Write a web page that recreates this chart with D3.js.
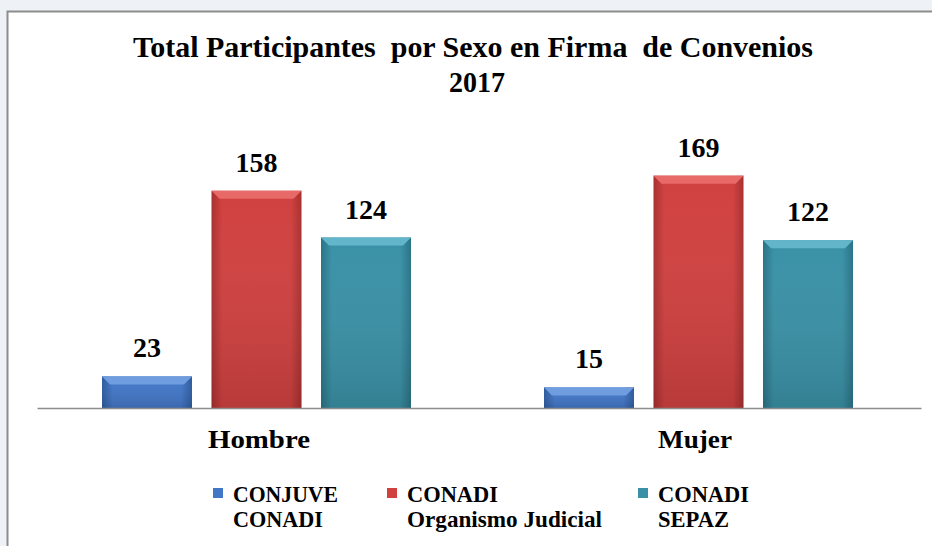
<!DOCTYPE html>
<html>
<head>
<meta charset="utf-8">
<script src="https://cdn.jsdelivr.net/npm/d3@7"></script>
<style>
  body { margin: 0; background: #eef2f6; }
  svg { display: block; }
</style>
</head>
<body>
<div id="my_dataviz"></div>
<script>
// data
var categories = ["Hombre", "Mujer"];
var series = ["CONJUVE CONADI", "CONADI Organismo Judicial", "CONADI SEPAZ"];
var legendLines = [["CONJUVE", "CONADI"], ["CONADI", "Organismo Judicial"], ["CONADI", "SEPAZ"]];
var conjuve = [23, 15];
var judicial = [158, 169];
var sepaz = [124, 122];
var colors = ["#4276c6", "#d04140", "#3a91a6"];
var darks = ["#2d5a9e", "#a8302f", "#2a7387"];
var lights = ["#6f9de0", "#e86a68", "#63b6c9"];

var FONT = "Liberation Serif";
var W = 932, H = 546;
var svg = d3.select("#my_dataviz")
  .append("svg")
  .attr("width", W)
  .attr("height", H);

// squeeze a text element to a given width
function fit(sel, w) {
  sel.attr("textLength", w).attr("lengthAdjust", "spacingAndGlyphs");
}

// chart frame
svg.append("rect")
  .attr("x", 7.5).attr("y", 11.5)
  .attr("width", W).attr("height", H)
  .attr("fill", "#fff")
  .attr("stroke", "#8c8c8c")
  .attr("stroke-width", 2);

var defs = svg.append("defs");
colors.forEach(function(c, i) {
  var g = defs.append("linearGradient").attr("id", "g" + i)
    .attr("x1", 0).attr("x2", 1).attr("y1", 0).attr("y2", 0);
  g.append("stop").attr("offset", "0%").attr("stop-color", darks[i]);
  g.append("stop").attr("offset", "12%").attr("stop-color", c);
  g.append("stop").attr("offset", "88%").attr("stop-color", c);
  g.append("stop").attr("offset", "100%").attr("stop-color", darks[i]);
  var v = defs.append("linearGradient").attr("id", "v" + i)
    .attr("x1", 0).attr("x2", 0).attr("y1", 0).attr("y2", 1);
  v.append("stop").attr("offset", "0%").attr("stop-color", "#fff").attr("stop-opacity", 0.0);
  v.append("stop").attr("offset", "100%").attr("stop-color", "#000").attr("stop-opacity", 0.12);
});

var baseY = 408;
var x0 = d3.scaleBand().domain(categories).range([37, 921]).paddingInner(0).paddingOuter(0);
var x1 = d3.scaleBand().domain(series).range([65, 374]).paddingInner(0.178).paddingOuter(0);
var y = d3.scaleLinear().domain([0, 200]).range([baseY, baseY - 275]);

var rows = categories.map(function(c, i) {
  return { cat: c, vals: [conjuve[i], judicial[i], sepaz[i]] };
});

// title
svg.append("text")
  .attr("x", 473).attr("y", 57)
  .attr("text-anchor", "middle")
  .attr("font-family", FONT).attr("font-weight", "bold").attr("font-size", 30)
  .attr("xml:space", "preserve")
  .text("Total Participantes  por Sexo en Firma  de Convenios")
  .call(fit, 680);
svg.append("text")
  .attr("x", 477).attr("y", 92)
  .attr("text-anchor", "middle")
  .attr("font-family", FONT).attr("font-weight", "bold").attr("font-size", 30)
  .text("2017")
  .call(fit, 56);

var groups = svg.selectAll("g.cat")
  .data(rows)
  .enter().append("g")
  .attr("class", "cat")
  .attr("transform", function(d) { return "translate(" + x0(d.cat) + ",0)"; });

var bars = groups.selectAll("g.bar")
  .data(function(d) { return d.vals.map(function(v, i) { return { v: v, s: series[i], i: i }; }); })
  .enter().append("g").attr("class", "bar");

bars.append("rect")
  .attr("x", function(d) { return x1(d.s); })
  .attr("y", function(d) { return y(d.v); })
  .attr("width", x1.bandwidth())
  .attr("height", function(d) { return baseY - y(d.v); })
  .attr("fill", function(d) { return "url(#g" + d.i + ")"; });
bars.append("rect")
  .attr("x", function(d) { return x1(d.s); })
  .attr("y", function(d) { return y(d.v); })
  .attr("width", x1.bandwidth())
  .attr("height", function(d) { return baseY - y(d.v); })
  .attr("fill", function(d) { return "url(#v" + d.i + ")"; });
// top bevel
bars.append("path")
  .attr("d", function(d) {
    var xl = x1(d.s), xr = xl + x1.bandwidth(), yt = y(d.v);
    return "M" + xl + "," + yt + "L" + xr + "," + yt + "L" + (xr - 8) + "," + (yt + 8) + "L" + (xl + 8) + "," + (yt + 8) + "Z";
  })
  .attr("fill", function(d) { return lights[d.i]; });

// value labels
bars.append("text")
  .attr("x", function(d) { return x1(d.s) + x1.bandwidth() / 2; })
  .attr("y", function(d) { return y(d.v) - 19; })
  .attr("text-anchor", "middle")
  .attr("font-family", FONT).attr("font-weight", "bold").attr("font-size", 28)
  .text(function(d) { return d.v; });

// x axis
var catWidth = { "Hombre": 102, "Mujer": 74 };
var catShift = { "Hombre": 1, "Mujer": -5 };
var xAxis = svg.append("g")
  .attr("transform", "translate(0," + baseY + ")")
  .call(d3.axisBottom(x0).tickSize(0).tickPadding(22));
xAxis.select(".domain").attr("stroke", "#8c8c8c").attr("stroke-width", 1.5);
xAxis.selectAll("text")
  .attr("dx", function(d) { return catShift[d]; })
  .attr("font-family", FONT).attr("font-weight", "bold").attr("font-size", 25)
  .attr("fill", "#000")
  .attr("textLength", function(d) { return catWidth[d]; })
  .attr("lengthAdjust", "spacingAndGlyphs");

// legend
var legX = [213, 387, 638];
var legW = [[105, 90], [91, 195], [91, 71]];
var leg = svg.selectAll("g.leg")
  .data(series)
  .enter().append("g")
  .attr("class", "leg")
  .attr("transform", function(d, i) { return "translate(" + legX[i] + ",0)"; });
leg.append("rect")
  .attr("x", 0).attr("y", 488).attr("width", 10).attr("height", 10)
  .attr("fill", function(d, i) { return colors[i]; });
leg.each(function(d, i) {
  var g = d3.select(this);
  legendLines[i].forEach(function(line, k) {
    g.append("text")
      .attr("x", 20).attr("y", 502 + k * 25)
      .attr("font-family", FONT).attr("font-weight", "bold").attr("font-size", 24)
      .text(line)
      .call(fit, legW[i][k]);
  });
});
</script>
</body>
</html>
